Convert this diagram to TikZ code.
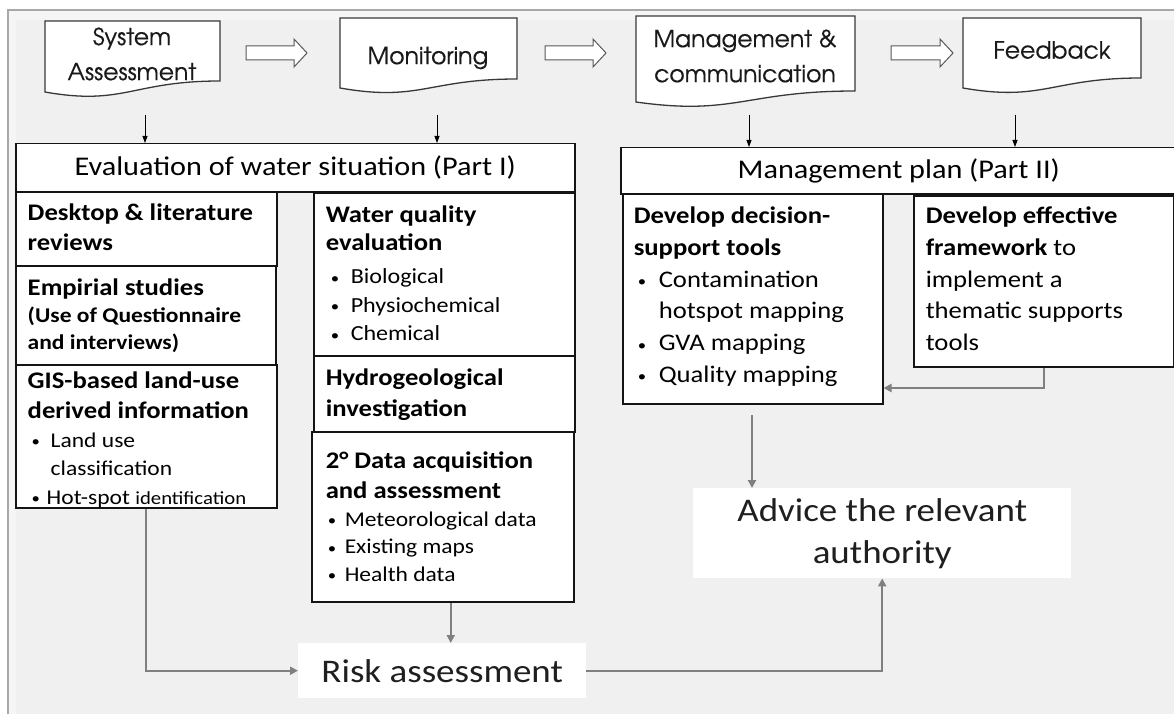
\documentclass[tikz,border=0pt]{standalone}
\usepackage{fontspec}
\setmainfont{Carlito}[FakeStretch=1.12]
\IfFontExistsTF{TeX Gyre Adventor}{\newfontfamily\gothic{TeX Gyre Adventor}[FakeBold=0.4]}{\newfontfamily\gothic{Poppins}}
\usetikzlibrary{arrows.meta}
\definecolor{bg}{HTML}{F0F0F0}
\definecolor{bgband}{HTML}{F6F5F4}
\definecolor{frame}{HTML}{A8A8A8}
\definecolor{garrow}{HTML}{808080}
\newcommand\fs[2]{\fontsize{#1pt}{#2pt}\selectfont}
% width, height, left pad, first baseline, content
\newcommand\bxt[5]{\begin{minipage}[t][#2][t]{#1}\vspace{0pt}\leftskip=#3\rightskip=0pt plus 1fil\parfillskip=0pt plus 1fil\vspace{\dimexpr#4-26pt\relax}\rule{0pt}{26pt}#5\end{minipage}}
% indent, bullet offset, text
\newcommand\itm[3]{\par\hangindent=#1\hangafter=1\noindent\makebox[#1][l]{\hspace{#2}{\fs{15}{15}\raisebox{0.5pt}{\textbullet}}}#3}
\begin{document}
\begin{tikzpicture}[x=1pt,y=-1pt,
  box/.style={draw=black!92,line width=1.5pt,fill=white,inner sep=0pt,anchor=north west},
  titlebox/.style={draw=black!92,line width=1.5pt,fill=white,inner sep=0pt,anchor=north west,font=\fs{27}{32}},
  doc/.style={draw=black!78,line width=1.3pt,fill=white},
  doctext/.style={align=center,font=\gothic\fs{23.5}{35},inner sep=0pt,text=black!90},
  blockarrow/.style={draw=black!65,line width=1pt,fill=white,line join=miter},
  blk/.style={draw=black,line width=0.8pt,-{Triangle[length=7pt,width=5pt]}},
  gar/.style={draw=garrow,line width=2pt,-{Triangle[length=8pt,width=8pt]}},
  plain/.style={fill=white,inner sep=0pt,anchor=north west,align=center,text=black!88}]
\useasboundingbox (0,0) rectangle (1174,714);
\fill[white] (0,0) rectangle (1174,714);
\fill[bgband] (8,10) rectangle (1174,714);
\fill[bg] (16,20) rectangle (1174,714);
\draw[frame,line width=1.5pt] (8,714) -- (8,10) -- (1174,10);

% document shapes
\draw[doc] (45,21) -- (220,21) -- (220,81) .. controls (132,81) and (124,106) .. (45,92) -- cycle;
\draw[doc] (340,18) -- (517,18) -- (517,79) .. controls (428,79) and (420,102) .. (340,88) -- cycle;
\draw[doc] (636,16) -- (855,16) -- (855,91) .. controls (745,91) and (735,116) .. (636,102) -- cycle;
\draw[doc] (963,18) -- (1141,18) -- (1141,78) .. controls (1052,78) and (1043,102) .. (963,88) -- cycle;
\node[doctext] (sa) at (132,54) {System\\Assessment};
\node[doctext] (mon) at (428,58) {Monitoring};
\node[doctext] (mc) at (745,56) {Management \&\\communication};
\node[doctext] (fb) at (1052,50) {Feedback};

% block arrows
\draw[blockarrow] (246,46) -- (294,46) -- (294,39) -- (307,53) -- (294,67) -- (294,60) -- (246,60) -- cycle;
\draw[blockarrow] (545,46) -- (593,46) -- (593,39) -- (606,53) -- (593,67) -- (593,60) -- (545,60) -- cycle;
\draw[blockarrow] (891,46) -- (940,46) -- (940,39) -- (953,53) -- (940,67) -- (940,60) -- (891,60) -- cycle;

% Part I
\node[titlebox,minimum width=559pt,minimum height=48pt] (eval) at (15,143) {Evaluation of water situation (Part I)};
\node[box] (desk) at (15,191) {\bxt{261pt}{74pt}{12pt}{29pt}{\fs{23.8}{30}\bfseries Desktop \& literature\par reviews}};
\node[box] (emp) at (15,265) {\bxt{260pt}{99pt}{12pt}{30pt}{\fs{23.8}{30}\bfseries Empirial studies\par\fs{21}{27}(Use of Questionnaire\par and interviews)}};
\node[box] (gis) at (15,364) {\bxt{261pt}{143pt}{12pt}{24pt}{{\fs{23.8}{30}\bfseries GIS-based land-use\par derived information\par}\fs{21}{28.5}\itm{23pt}{4pt}{Land use\\classification}\itm{19pt}{4pt}{Hot-spot {\fs{18.5}{28.5}identification}}}};
\node[box] (wq) at (313,192) {\bxt{261pt}{163pt}{12pt}{30pt}{{\fs{23.8}{28}\bfseries Water quality\par evaluation\par}\vspace{4.5pt}\fs{21.5}{28.5}\itm{25pt}{5pt}{Biological}\itm{25pt}{5pt}{Physiochemical}\itm{25pt}{5pt}{Chemical}}};
\node[box] (hyd) at (313,355) {\bxt{261pt}{76pt}{12pt}{30pt}{\fs{23.8}{31}\bfseries Hydrogeological\par investigation}};
\node[box] (dat) at (311,431) {\bxt{262pt}{170pt}{14pt}{37pt}{{\fs{23.8}{30}\bfseries 2° Data acquisition\par and assessment\par}\fs{21}{27.5}\itm{19pt}{2pt}{Meteorological data}\itm{19pt}{2pt}{Existing maps}\itm{19pt}{2pt}{Health data}}};

% Part II
\node[titlebox,minimum width=556pt,minimum height=46pt] (mp) at (620,147) {Management plan (Part II)};
\node[box] (dec) at (622,193) {\bxt{260pt}{210pt}{11pt}{30pt}{{\fs{23.8}{31.7}\bfseries Develop decision-\par support tools\par}\fs{23.8}{31.7}\itm{25pt}{4pt}{Contamination\\hotspot mapping}\itm{25pt}{4pt}{GVA mapping}\itm{25pt}{4pt}{Quality mapping}}};
\node[box] (eff) at (913,195) {\bxt{260pt}{171pt}{12pt}{28pt}{\fs{23.8}{31.7}\textbf{Develop effective}\par\textbf{framework} to\par implement a\par thematic supports\par tools}};

% outcome boxes
\node[plain,minimum width=378pt,minimum height=90pt,font=\fs{33}{42}] (adv) at (693,488) {Advice the relevant\\authority};
\node[plain,minimum width=288pt,minimum height=55pt,font=\fs{33}{40}] (risk) at (298,643) {Risk assessment};

% black arrows
\coordinate (t1) at (145,115);
\coordinate (t2) at (437,115);
\coordinate (t3) at (749,115);
\coordinate (t4) at (1015,115);
\draw[blk] (t1) -- (t1 |- eval.north);
\draw[blk] (t2) -- (t2 |- eval.north);
\draw[blk] (t3) -- (t3 |- mp.north);
\draw[blk] (t4) -- (t4 |- mp.north);

% gray arrows
\draw[gar] (eff.south) -- (eff.south |- 0,388) -- (dec.east |- 0,388);
\coordinate (d1) at (752,415);
\draw[gar] (d1) -- (d1 |- adv.north);
\draw[gar] (gis.south) |- (risk.west);
\draw[gar] ([xshift=8pt]dat.south) -- ([xshift=8pt]dat.south |- risk.north);
\draw[gar] (risk.east) -| (adv.south);
\end{tikzpicture}
\end{document}
